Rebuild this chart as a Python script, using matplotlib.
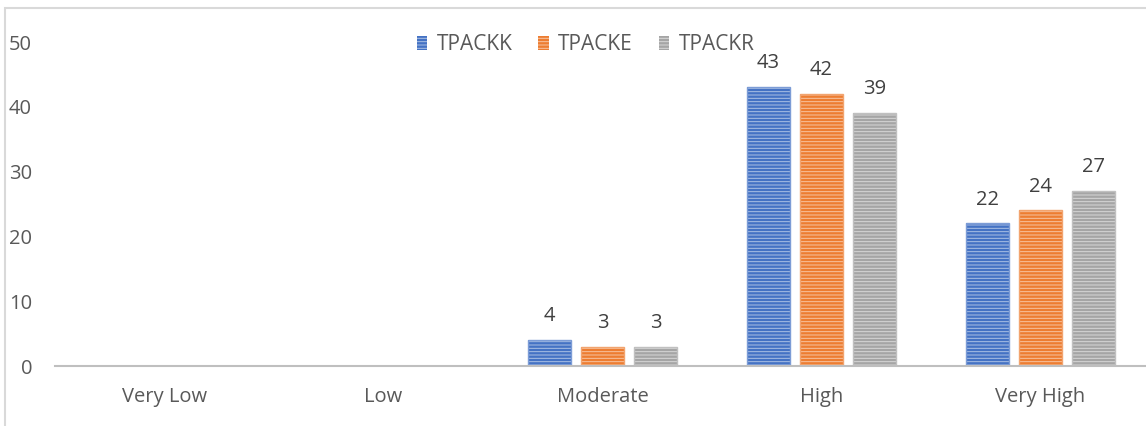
import numpy as np
import matplotlib
matplotlib.use('Agg')
import matplotlib.pyplot as plt
from matplotlib.patches import Rectangle
from matplotlib.colors import to_rgb

categories = ['Very Low', 'Low', 'Moderate', 'High', 'Very High']
series = ['TPACKK', 'TPACKE', 'TPACKR']
tpackk = [0, 0, 4, 43, 22]
tpacke = [0, 0, 3, 42, 24]
tpackr = [0, 0, 3, 39, 27]
colors = ['#4472C4', '#ED7D31', '#A5A5A5']

plt.rcParams['font.family'] = ['Open Sans', 'DejaVu Sans']
plt.rcParams['hatch.linewidth'] = 0.7


def tint(c, f=0.55):
    r, g, b = to_rgb(c)
    return (r + (1 - r) * f, g + (1 - g) * f, b + (1 - b) * f)


fig = plt.figure(figsize=(11.46, 4.26), dpi=100)
ax = fig.add_axes([55 / 1146, 1 - 366 / 426, 1095 / 1146, (366 - 42) / 426])

x = np.arange(len(categories))
width = 0.2
offset = 0.242
for i, (vals, c, name) in enumerate(zip([tpackk, tpacke, tpackr], colors, series)):
    pos = x + (i - 1) * offset
    ax.bar(pos, vals, width, color=c, edgecolor=tint(c), hatch='-----',
           linewidth=0, label=name)
    ax.bar(pos, vals, width, fill=False, edgecolor=tint(c, 0.3), linewidth=1.0)
    for p, v in zip(pos, vals):
        if v > 0:
            ax.annotate(str(v), (p, v), xytext=(0, 10), textcoords='offset points',
                        ha='center', va='bottom', fontsize=14.5, color='#404040')

ax.set_xlim(-0.5, 4.5)
ax.set_ylim(0, 50)
ax.set_yticks([0, 10, 20, 30, 40, 50])
ax.set_xticks(x)
ax.set_xticklabels(categories)
for s in ['top', 'right', 'left']:
    ax.spines[s].set_visible(False)
ax.spines['bottom'].set_color('#BFBFBF')
ax.spines['bottom'].set_linewidth(1.5)
ax.tick_params(axis='both', length=0, labelsize=14.5, labelcolor='#595959')
ax.tick_params(axis='y', pad=16.5)
ax.tick_params(axis='x', pad=15)

handles, labels = ax.get_legend_handles_labels()
fig.legend(handles, labels, loc='center', bbox_to_anchor=(0.511, 0.895), ncol=3,
           frameon=False, fontsize=15, handlelength=0.5, handleheight=0.7,
           columnspacing=1.25, handletextpad=0.45, labelcolor='#595959')

fig.patches.append(Rectangle((5 / 1146, -0.1), 1.2, 1 - 8 / 426 + 0.1,
                             transform=fig.transFigure, fill=False,
                             edgecolor='#D9D9D9', linewidth=1.5))

fig.savefig('out.png', dpi=100)
